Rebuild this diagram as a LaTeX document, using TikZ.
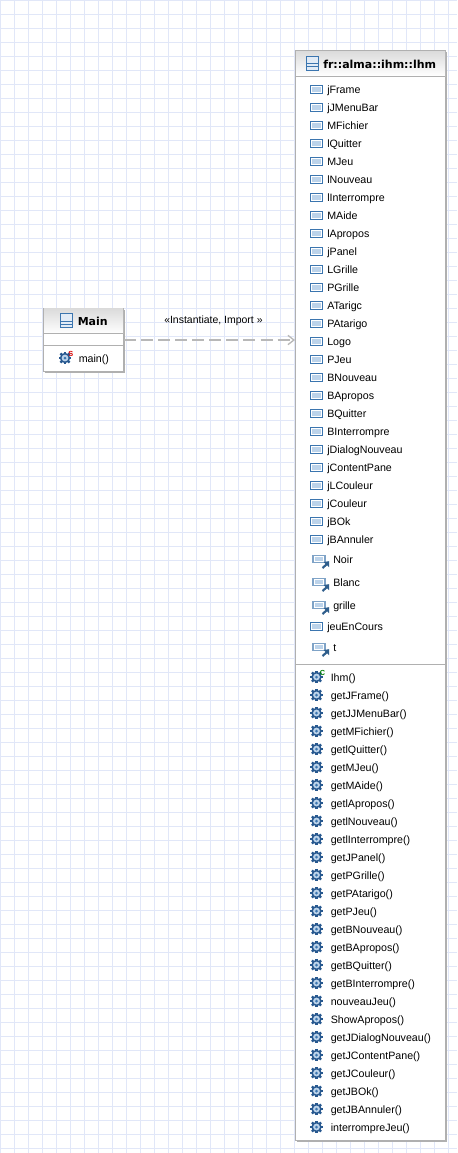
\documentclass[tikz,border=0pt]{standalone}
\usepackage{fontspec}
\setmainfont{Liberation Sans}
\newfontfamily\titlefont{DejaVu Sans}
\usetikzlibrary{arrows.meta,shadows}

\definecolor{gridblue}{HTML}{E1E7F8}
\definecolor{boxgray}{HTML}{B0B0B0}
\definecolor{iconblue}{HTML}{3B75AF}
\definecolor{iconlight}{HTML}{BCD3EA}
\definecolor{iconpale}{HTML}{7FA3C7}
\definecolor{geardark}{HTML}{27588F}

\tikzset{
    gridline/.style={draw=gridblue,line width=0.75pt},
    classbox/.style={draw=boxgray,fill=white,line width=0.75pt,inner sep=0pt,
        general shadow={fill=boxgray,shadow xshift=1.4pt,shadow yshift=-1.4pt}},
    headbox/.style={top color=black!14,bottom color=white,inner sep=0pt},
    sepline/.style={draw=boxgray,line width=0.75pt},
    rowtext/.style={anchor=base west,inner sep=0pt,font=\fontsize{8}{9}\selectfont},
    titletext/.style={anchor=base west,inner sep=0pt,font=\titlefont\bfseries\fontsize{8.25}{10}\selectfont},
    depend/.style={draw=boxgray!90,line width=1.5pt,dash pattern=on 9pt off 3.8pt,
        -{Straight Barb[length=4.5pt,width=7pt,line width=1pt]}},
    fieldicon/.pic={
        \draw[iconblue,fill=white,line width=0.9pt] (-6,-3.8) rectangle (6,3.8);
        \fill[iconlight] (-4.2,-2.2) rectangle (4.2,2.2);
    },
    constanticon/.pic={
        \draw[iconpale,fill=white,line width=0.9pt] (-6,-3.8) rectangle (6,3.8);
        \fill[iconlight] (-4.2,-2.2) rectangle (4.2,2.2);
        \draw[iconblue!80!black,line width=1.6pt] (3.5,9) -- (8,5);
        \fill[iconblue!80!black] (10,2.2) -- (10,8) -- (4.5,3) -- cycle;
    },
    gearicon/.pic={
        \foreach \a in {0,45,...,315} {
            \draw[geardark,line width=1.8pt] (\a:3) -- (\a:6.4);
        }
        \fill[geardark] (0,0) circle (5.2);
        \fill[iconlight] (0,0) circle (3.4);
        \fill[iconblue] (0,0) circle (1.5);
    },
    classicon/.pic={
        \draw[iconblue,fill=iconlight!45,line width=0.75pt] (-6,-7) rectangle (6,7);
        \draw[iconblue,line width=0.75pt] (-6,0.5) -- (6,0.5);
        \draw[iconblue,line width=0.75pt] (-6,3.5) -- (6,3.5);
    },
}

\begin{document}
\begin{tikzpicture}[x=0.75pt,y=-0.75pt]
    \path[use as bounding box,fill=white] (0,0) rectangle (457,1153);
    % background grid
    \foreach \gx in {0,14,...,456} {
        \draw[gridline] (\gx+0.5,0) -- (\gx+0.5,1153);
    }
    \foreach \gy in {0,14,...,1152} {
        \draw[gridline] (0,\gy+0.5) -- (457,\gy+0.5);
    }

    % class Main
    \node[classbox,minimum width=60pt,minimum height=47pt] (Main) at (83.5,339.7) {};
    \node[headbox,minimum width=59.25pt,minimum height=18.75pt] (MainHead) at (83.5,321.2) {};
    \draw[sepline] (MainHead.south west) -- (MainHead.south east);
    \draw[sepline] (Main.west |- 0,345) -- (Main.east |- 0,345);
    \pic at (66.5,320.5) {classicon};
    \node[titletext] (MainTitle) at (77.5,325.5) {Main};
    \pic at (65,358) {gearicon};
    \node[anchor=base west,inner sep=0pt,text=red!85!black,font=\bfseries\fontsize{5.5}{6}\selectfont] (MainStatic) at (68,356) {S};
    \node[rowtext] (mainop) at (78.5,362) {main()};

    % class Ihm
    \node[classbox,minimum width=112.5pt,minimum height=817.5pt] (Ihm) at (370.5,595.5) {};
    \node[headbox,minimum width=111.75pt,minimum height=18.75pt] (IhmHead) at (370.5,63.5) {};
    \draw[sepline] (IhmHead.south west) -- (IhmHead.south east);
    \draw[sepline] (Ihm.west |- 0,664) -- (Ihm.east |- 0,664);
    \pic at (312.5,63) {classicon};
    \node[titletext] (IhmTitle) at (323,68) {fr::alma::ihm::lhm};

    % attributes
    \foreach \name [count=\i from 0] in {jFrame,jJMenuBar,MFichier,lQuitter,MJeu,lNouveau,lInterrompre,MAide,lApropos,jPanel,LGrille,PGrille,ATarigc,PAtarigo,Logo,PJeu,BNouveau,BApropos,BQuitter,BInterrompre,jDialogNouveau,jContentPane,jLCouleur,jCouleur,jBOk,jBAnnuler} {
        \pgfmathsetmacro\rowy{89.5+18*\i}
        \pic at (316.5,\rowy) {fieldicon};
        \node[rowtext] (attr\i) at (327,\rowy+3.5) {\name};
    }
    \pic at (319,559) {constanticon};
    \node[rowtext] (Noir) at (333,563) {Noir};
    \pic at (319,582) {constanticon};
    \node[rowtext] (Blanc) at (333,586) {Blanc};
    \pic at (319,605) {constanticon};
    \node[rowtext] (grille) at (333,609) {grille};
    \pic at (316.5,626.5) {fieldicon};
    \node[rowtext] (jeuEnCours) at (327,630) {jeuEnCours};
    \pic at (319,647) {constanticon};
    \node[rowtext] (tattr) at (333,651) {t};

    % methods
    \foreach \name [count=\i from 0] in {Ihm(),getJFrame(),getJJMenuBar(),getMFichier(),getlQuitter(),getMJeu(),getMAide(),getlApropos(),getlNouveau(),getlInterrompre(),getJPanel(),getPGrille(),getPAtarigo(),getPJeu(),getBNouveau(),getBApropos(),getBQuitter(),getBInterrompre(),nouveauJeu(),ShowApropos(),getJDialogNouveau(),getJContentPane(),getJCouleur(),getJBOk(),getJBAnnuler(),interrompreJeu()} {
        \pgfmathsetmacro\rowy{677+18*\i}
        \pic at (316.5,\rowy) {gearicon};
        \node[rowtext] (op\i) at (330.5,\rowy+4) {\name};
    }
    \node[anchor=base west,inner sep=0pt,text=green!50!black,font=\bfseries\fontsize{5.5}{6}\selectfont] (IhmCtor) at (319.5,675) {C};

    % dependency
    \draw[depend] (Main.east |- 0,340) -- (Ihm.west |- 0,340);
    \node[rowtext,font=\fontsize{7.85}{9}\selectfont] (deplabel) at (164,323) {«Instantiate, Import »};
\end{tikzpicture}
\end{document}
